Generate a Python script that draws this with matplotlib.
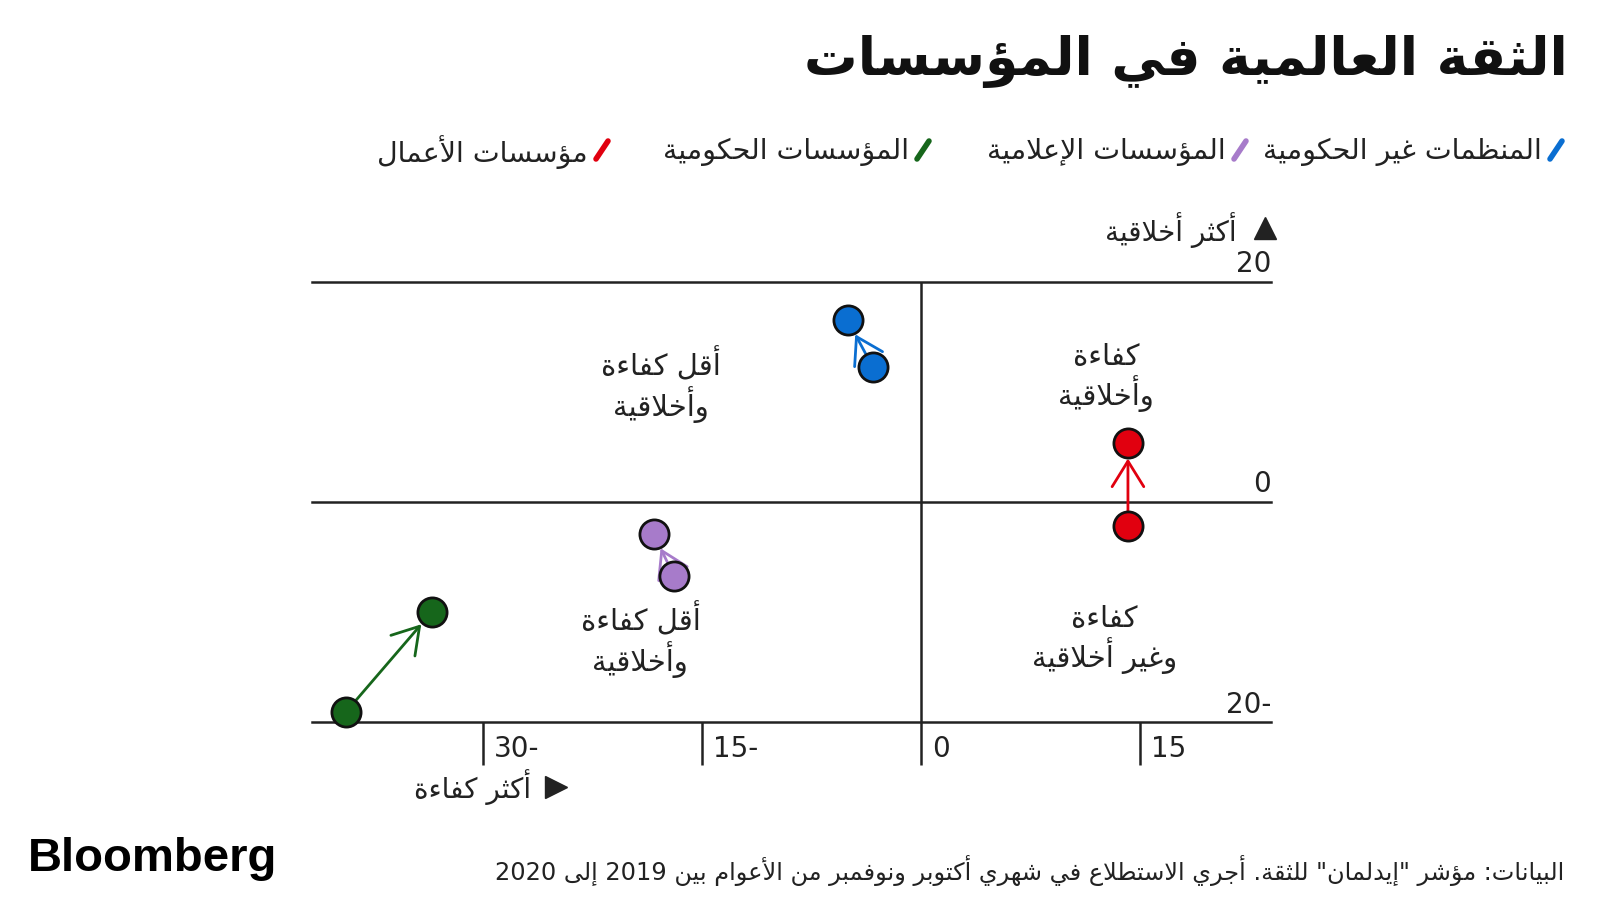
import re

import matplotlib
matplotlib.use("Agg")
import matplotlib.pyplot as plt

plt.rcParams["font.family"] = ["DejaVu Sans"]

title = "الثقة العالمية في المؤسسات"
source = 'البيانات: مؤشر "إيدلمان" للثقة. أجري الاستطلاع في شهري أكتوبر ونوفمبر من الأعوام بين 2019 إلى 2020'
groups = ["المنظمات غير الحكومية", "المؤسسات الإعلامية", "المؤسسات الحكومية", "مؤسسات الأعمال"]
colors = ["#0a6ed1", "#a77bca", "#16661b", "#e1000f"]
competence_2019 = [-3.3, -16.9, -39.4, 14.2]
ethics_2019 = [12.3, -6.7, -19.1, -2.2]
competence_2020 = [-5.0, -18.3, -33.5, 14.2]
ethics_2020 = [16.5, -2.9, -10.0, 5.4]
x_ticks = [-30, -15, 0, 15]
x_tick_labels = ["30-", "15-", "0", "15"]
y_ticks = [20, 0, -20]
y_tick_labels = ["20", "0", "20-"]
quadrant_x = [-17.8, 12.7, -19.2, 12.6]
quadrant_y = [10.6, 11.3, -12.5, -12.5]
quadrant_labels = ["أقل كفاءة\nوأخلاقية", "كفاءة\nوأخلاقية", "أقل كفاءة\nوأخلاقية", "كفاءة\nوغير أخلاقية"]
y_axis_label = "أكثر أخلاقية"
x_axis_label = "أكثر كفاءة"

INK = "#222222"

# matplotlib has no arabic shaping, so map letters to presentation forms
# and put the string into visual order by hand
_letters = [("ء", 1), ("آ", 2), ("أ", 2), ("ؤ", 2), ("إ", 2), ("ئ", 4), ("ا", 2),
            ("ب", 4), ("ة", 2), ("ت", 4), ("ث", 4), ("ج", 4), ("ح", 4), ("خ", 4),
            ("د", 2), ("ذ", 2), ("ر", 2), ("ز", 2), ("س", 4), ("ش", 4), ("ص", 4),
            ("ض", 4), ("ط", 4), ("ظ", 4), ("ع", 4), ("غ", 4), ("ف", 4), ("ق", 4),
            ("ك", 4), ("ل", 4), ("م", 4), ("ن", 4), ("ه", 4), ("و", 2), ("ى", 2),
            ("ي", 4)]
FORMS = {}
_code = 0xFE80
for _ch, _n in _letters:
    FORMS[_ch] = [chr(_code + i) for i in range(_n)]
    _code += _n
LAM_ALEF = {"آ": 0xFEF5, "أ": 0xFEF7, "إ": 0xFEF9, "ا": 0xFEFB}


def shape(text):
    units = []
    i = 0
    while i < len(text):
        c = text[i]
        if c == "ل" and i + 1 < len(text) and text[i + 1] in LAM_ALEF:
            base = LAM_ALEF[text[i + 1]]
            units.append((c, [chr(base), chr(base + 1)]))
            i += 2
        else:
            units.append((c, FORMS.get(c)))
            i += 1
    out = []
    for k, (c, forms) in enumerate(units):
        if forms is None:
            out.append(c)
            continue
        prev = units[k - 1][1] if k > 0 else None
        nxt = units[k + 1][1] if k + 1 < len(units) else None
        joins_prev = prev is not None and len(prev) == 4 and len(forms) > 1
        joins_next = len(forms) == 4 and nxt is not None and len(nxt) > 1
        if joins_prev and joins_next:
            out.append(forms[3])
        elif joins_prev:
            out.append(forms[1])
        elif joins_next:
            out.append(forms[2])
        else:
            out.append(forms[0])
    return "".join(out)


def ar(text):
    lines = []
    for line in text.split("\n"):
        runs = re.findall(r"[0-9A-Za-z]+|[^0-9A-Za-z]+", shape(line))
        lines.append("".join(r if r[0].isascii() and r[0].isalnum() else r[::-1]
                             for r in reversed(runs)))
    return "\n".join(lines)


fig = plt.figure(figsize=(16, 9), dpi=100)
fig.patch.set_facecolor("white")

# page layer in pixel coordinates for titles, legend and footer
page = fig.add_axes([0, 0, 1, 1])
page.set_xlim(0, 1600)
page.set_ylim(900, 0)
page.axis("off")

ax = fig.add_axes([312 / 1600, 1 - 722.3 / 900, (1271 - 312) / 1600, (722.3 - 281.7) / 900])
ax.set_xlim(-41.7, 24.0)
ax.set_ylim(-20, 20)
ax.axis("off")

page.text(1568, 62, ar(title), ha="right", va="center", fontsize=38.5,
          fontweight="bold", color="#111111")

legend_right = [1556, 1240, 923, 602]
for name, color, xr in zip(groups, colors, legend_right):
    page.plot([xr - 6, xr + 6], [159, 141], color=color, lw=4, solid_capstyle="round")
    page.text(xr - 14, 152, ar(name), ha="right", va="center", fontsize=20.5, color=INK)

# axes frame
for y in y_ticks:
    ax.axhline(y, color=INK, lw=1.8, zorder=1, clip_on=False)
for x in x_ticks:
    top = 20 if x == 0 else -20
    ax.vlines(x, -23.9, top, color=INK, lw=1.8, clip_on=False, zorder=1)
for x, label in zip(x_ticks, x_tick_labels):
    ax.annotate(label, (x, -20), xytext=(8, -19), textcoords="offset points",
                ha="left", va="center", fontsize=20, color=INK)
for y, label in zip(y_ticks, y_tick_labels):
    ax.annotate(label, (ax.get_xlim()[1], y), xytext=(0, 7), textcoords="offset points",
                ha="right", va="baseline", fontsize=20, color=INK)

page.plot(1265, 228, marker="^", ms=16, color=INK)
page.text(1237, 230, ar(y_axis_label), ha="right", va="center", fontsize=20, color=INK)
page.plot(556, 787, marker=">", ms=16, color=INK)
page.text(531, 787, ar(x_axis_label), ha="right", va="center", fontsize=20, color=INK)

for qx, qy, label in zip(quadrant_x, quadrant_y, quadrant_labels):
    ax.text(qx, qy, ar(label), ha="center", va="center", fontsize=21,
            color=INK, linespacing=1.15)

for x0, y0, x1, y1, color in zip(competence_2019, ethics_2019,
                                 competence_2020, ethics_2020, colors):
    ax.annotate("", xy=(x1, y1), xytext=(x0, y0),
                arrowprops=dict(arrowstyle="->,head_length=0.92,head_width=0.57",
                                mutation_scale=20, color=color, lw=2,
                                shrinkA=0, shrinkB=11.5), zorder=2)
    ax.plot([x0, x1], [y0, y1], ls="none", marker="o", ms=21, mfc=color,
            mec="#111111", mew=2, zorder=3, clip_on=False)

page.text(28, 859, "Bloomberg", ha="left", va="center", fontsize=34,
          fontweight="bold", family="Liberation Sans", color="#000000")
page.text(1564, 870, ar(source), ha="right", va="center", fontsize=17.3, color=INK)

fig.savefig("out.png", dpi=100, facecolor="white")
